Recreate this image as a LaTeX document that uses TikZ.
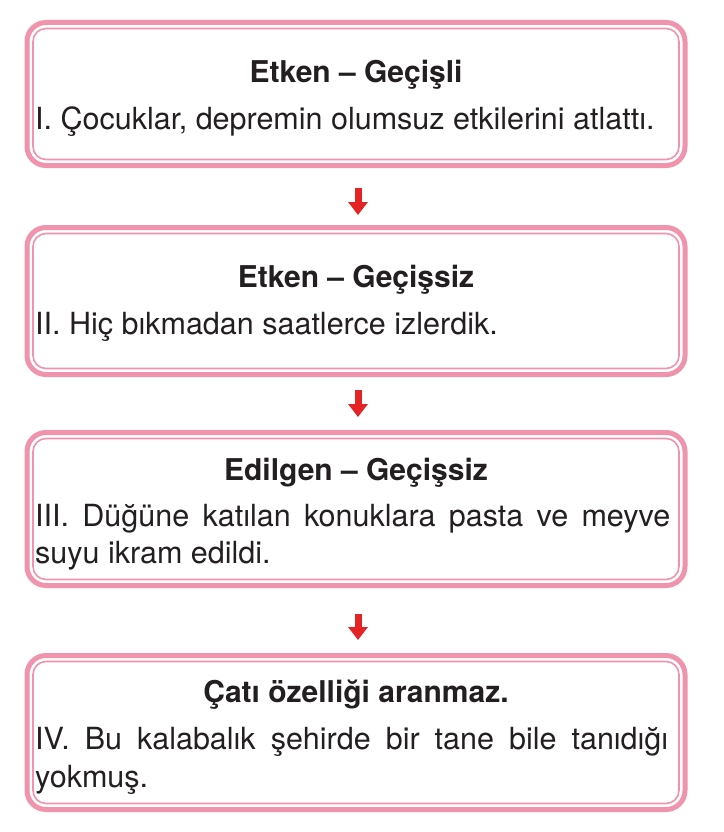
\documentclass[tikz,border=0pt]{standalone}
\usepackage{fontspec}
\setmainfont{TeX Gyre Heros}
\usetikzlibrary{arrows.meta}
\definecolor{boxpink}{HTML}{F093AC}
\definecolor{arrowred}{HTML}{E52325}
\definecolor{ink}{HTML}{231F20}
\begin{document}
\begin{tikzpicture}[x=1pt,y=-1pt,
  box/.style={draw=boxpink, line width=5pt, rounded corners=19pt, minimum width=658pt, inner sep=0pt, outer sep=0pt, fill=white},
  innerline/.style={draw=boxpink, line width=1.6pt, rounded corners=13pt},
  title/.style={font=\fontsize{30}{36}\selectfont\bfseries, text=ink, anchor=base, inner sep=0pt},
  body/.style={font=\fontsize{30.5}{36}\selectfont, text=ink, anchor=base west, inner sep=0pt},
  flow/.style={draw=arrowred, line width=7pt, -{Triangle[width=19pt,length=13pt]}}]
\fill[white] (0,0) rectangle (723,832);
\useasboundingbox (0,0) rectangle (723,832);

% boxes
\node[box, minimum height=143pt] (b1) at (356,94) {};
\node[box, minimum height=147pt] (b2) at (356,301) {};
\node[box, minimum height=153pt] (b3) at (356,509) {};
\node[box, minimum height=154pt] (b4) at (356,732.5) {};

\foreach \b in {b1,b2,b3,b4}{
  \draw[innerline] ([shift={(6,6)}]\b.north west) rectangle ([shift={(-6,-6)}]\b.south east);
}

% box 1
\node[title] (t1) at (356,83) {Etken – Geçişli};
\node[body] (s1) at (35,130) {I. Çocuklar, depremin olumsuz etkilerini atlattı.};
% box 2
\node[title] (t2) at (356,287) {Etken – Geçişsiz};
\node[body] (s2) at (35,334) {II. Hiç bıkmadan saatlerce izlerdik.};
% box 3
\node[title] (t3) at (356,480) {Edilgen – Geçişsiz};
\node[body] (s3a) at (35,526) {\makebox[635pt][s]{III. Düğüne katılan konuklara pasta ve meyve}};
\node[body] (s3b) at (35,563) {suyu ikram edildi.};
% box 4
\node[title] (t4) at (356,702) {Çatı özelliği aranmaz.};
\node[body] (s4a) at (35,749) {\makebox[633pt][s]{IV. Bu kalabalık şehirde bir tane bile tanıdığı}};
\node[body] (s4b) at (35,787) {yokmuş.};

% arrows
\draw[flow, shorten <=22.5pt, shorten >=12.5pt] ([xshift=2pt]b1.south) -- ([xshift=2pt]b2.north);
\draw[flow, shorten <=15.5pt, shorten >=15.5pt] ([xshift=2pt]b2.south) -- ([xshift=2pt]b3.north);
\draw[flow, shorten <=28.5pt, shorten >=15.5pt] ([xshift=2pt]b3.south) -- ([xshift=2pt]b4.north);
\end{tikzpicture}
\end{document}
